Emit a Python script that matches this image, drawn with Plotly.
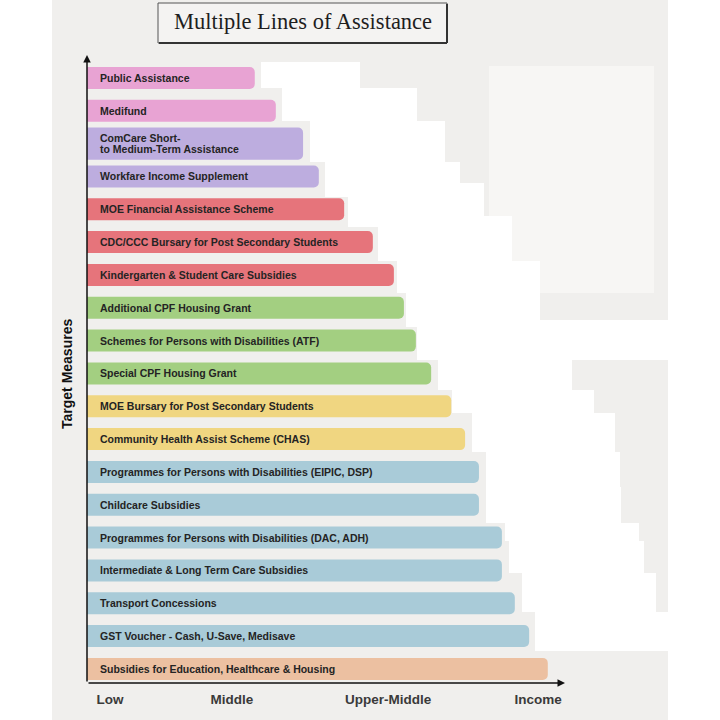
import plotly.graph_objects as go

# ---------------- data ----------------
measures = [
    "Public Assistance",
    "Medifund",
    "ComCare Short-<br>to Medium-Term Assistance",
    "Workfare Income Supplement",
    "MOE Financial Assistance Scheme",
    "CDC/CCC Bursary for Post Secondary Students",
    "Kindergarten & Student Care Subsidies",
    "Additional CPF Housing Grant",
    "Schemes for Persons with Disabilities (ATF)",
    "Special CPF Housing Grant",
    "MOE Bursary for Post Secondary Students",
    "Community Health Assist Scheme (CHAS)",
    "Programmes for Persons with Disabilities (EIPIC, DSP)",
    "Childcare Subsidies",
    "Programmes for Persons with Disabilities (DAC, ADH)",
    "Intermediate & Long Term Care Subsidies",
    "Transport Concessions",
    "GST Voucher - Cash, U-Save, Medisave",
    "Subsidies for Education, Healthcare & Housing",
]
income_reach = [35.1, 39.5, 45.2, 48.5, 53.8, 59.8, 64.2, 66.3, 68.8, 72.0,
                76.2, 79.1, 82.0, 82.0, 86.8, 86.8, 89.5, 92.5, 96.4]
groups = ["pink", "pink", "purple", "purple", "red", "red", "red",
          "green", "green", "green", "yellow", "yellow",
          "blue", "blue", "blue", "blue", "blue", "blue", "peach"]
tick_labels = ["Low", "Middle", "Upper-Middle", "Income"]
tick_vals = [4.8, 30.3, 63.0, 94.4]

palette = {"pink": "#e8a3d3", "purple": "#bdaddf", "red": "#e6747b",
           "green": "#a3cf81", "yellow": "#f0d681", "blue": "#a9cbd8",
           "peach": "#ecc0a1"}

W, H = 720, 720
L, R, T, B = 87, 565, 55, 683   # plot area in pixels


def px(x):
    return (x - L) / (R - L)


def py(y):
    return (B - y) / (B - T)


GREY = "#f0efed"
LABEL_FONT = dict(family="Liberation Sans, Arial, sans-serif", size=10.5,
                  color="#242424", weight="bold")

fig = go.Figure()
fig.add_trace(go.Bar(
    y=measures, x=income_reach, orientation="h",
    marker=dict(color=[palette[g] for g in groups], line=dict(width=0)),
    width=[0.98 if "<br>" in m else 0.67 for m in measures],
    hoverinfo="skip",
))

shapes = []
# white page areas outside the grey panel
for (x0, x1, y0, y1) in [(0, 52, 0, 720), (668, 720, 0, 720)]:
    shapes.append(dict(type="rect", xref="paper", yref="paper",
                       x0=px(x0), x1=px(x1), y0=py(y1), y1=py(y0),
                       fillcolor="white", line=dict(width=0), layer="below"))
# faint panel at top right
shapes.append(dict(type="rect", xref="paper", yref="paper",
                   x0=px(489), x1=px(654), y0=py(293), y1=py(66),
                   fillcolor="#f7f6f4", line=dict(width=0), layer="below"))
# white staircase patches
patches = [
    (261, 360, 62, 88), (282, 417, 88, 121), (310, 445, 121, 162),
    (325, 460, 162, 183), (325, 484, 183, 197), (348, 484, 197, 216),
    (348, 512, 216, 227), (378, 512, 227, 261), (397, 540, 261, 293),
    (406, 540, 293, 320), (406, 720, 320, 327), (417, 720, 327, 360),
    (438, 572, 360, 390), (452, 594, 390, 413), (472, 615, 413, 452),
    (486, 620, 452, 487), (486, 621, 487, 523), (505, 639, 523, 541),
    (509, 644, 541, 573), (522, 656, 573, 612), (535, 720, 612, 651),
]
for (x0, x1, y0, y1) in patches:
    shapes.append(dict(type="rect", xref="paper", yref="paper",
                       x0=px(x0), x1=px(x1), y0=py(y1), y1=py(y0),
                       fillcolor="white", line=dict(width=0), layer="below"))
# title box
shapes.append(dict(type="rect", xref="paper", yref="paper",
                   x0=px(158), x1=px(447), y0=py(43), y1=py(3),
                   fillcolor="#f4f3f2", line=dict(color="#555555", width=1)))
shapes.append(dict(type="line", xref="paper", yref="paper",
                   x0=px(447), x1=px(447), y0=py(43), y1=py(4),
                   line=dict(color="#333333", width=2)))
shapes.append(dict(type="line", xref="paper", yref="paper",
                   x0=px(159), x1=px(447), y0=py(43), y1=py(43),
                   line=dict(color="#333333", width=2)))

annotations = []
# title
annotations.append(dict(text="Multiple Lines of Assistance", xref="paper", yref="paper",
                        x=px(303), y=py(22), showarrow=False, xanchor="center", yanchor="middle",
                        font=dict(family="Liberation Serif, Georgia, serif", size=22.5, color="#1e1e1e")))
# bar labels (multi-line labels drawn line by line with tight spacing)
for m in measures:
    lines = m.split("<br>")
    n = len(lines)
    for k, line in enumerate(lines):
        annotations.append(dict(text=line, x=2.3, y=m, xref="x", yref="y", showarrow=False,
                                xanchor="left", yanchor="middle", align="left",
                                yshift=(n - 1) * 5.5 - k * 11,
                                font=LABEL_FONT))
# y axis title
annotations.append(dict(text="Target Measures", xref="paper", yref="paper",
                        x=px(67), y=py(374), showarrow=False, textangle=-90,
                        xanchor="center", yanchor="middle",
                        font=dict(family="Liberation Sans, Arial, sans-serif", size=14,
                                  color="#111111", weight="bold")))
# axis arrows
annotations.append(dict(text="", xref="paper", yref="paper", x=0, y=1, ax=0, ay=B - T,
                        axref="pixel", ayref="pixel", showarrow=True, arrowhead=2,
                        arrowsize=1, arrowwidth=1.5, arrowcolor="#111111"))
annotations.append(dict(text="", xref="paper", yref="paper", x=1, y=0, ax=-(R - L), ay=0,
                        axref="pixel", ayref="pixel", showarrow=True, arrowhead=2,
                        arrowsize=1, arrowwidth=1.5, arrowcolor="#111111"))

fig.update_layout(
    width=W, height=H,
    margin=dict(l=L, r=W - R, t=T, b=H - B, pad=0),
    paper_bgcolor=GREY, plot_bgcolor="rgba(0,0,0,0)",
    showlegend=False, barcornerradius=5,
    shapes=shapes, annotations=annotations,
    xaxis=dict(range=[0, 100], showgrid=False, zeroline=False, showline=False,
               tickvals=tick_vals, ticktext=tick_labels, ticks="", ticklen=0,
               ticklabelstandoff=6,
               tickfont=dict(family="Liberation Sans, Arial, sans-serif", size=13.5,
                             color="#3a3a3a", weight="bold"),
               fixedrange=True),
    yaxis=dict(range=[18.43, -0.70], showgrid=False, zeroline=False, showline=False,
               showticklabels=False, ticks="", fixedrange=True, type="category"),
)

fig.write_html("out.html")
